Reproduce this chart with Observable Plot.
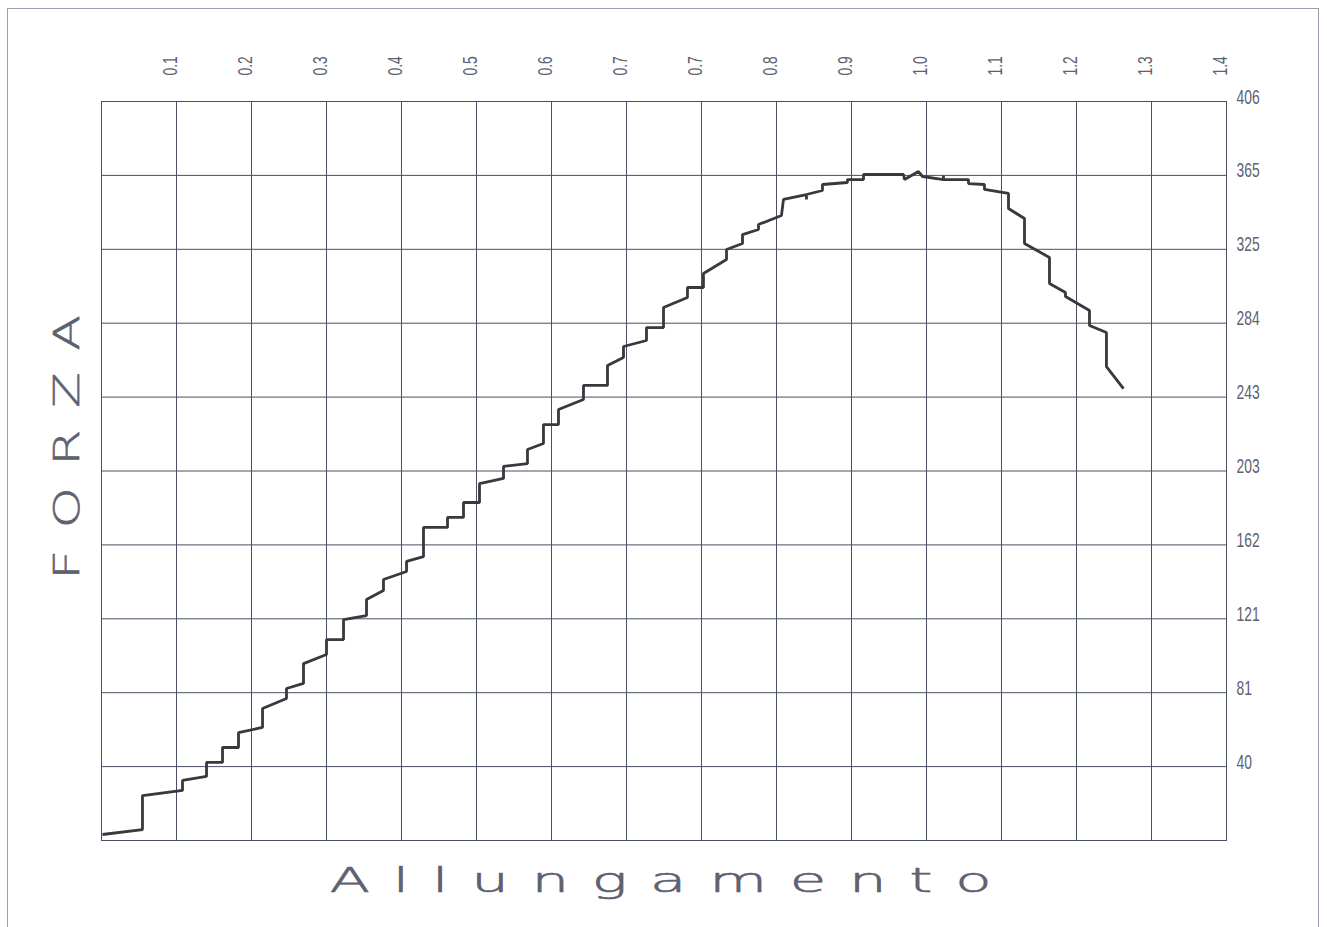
<!DOCTYPE html>
<html>
<head>
<meta charset="utf-8">
<script src="https://cdn.jsdelivr.net/npm/d3@7"></script>
<script src="https://cdn.jsdelivr.net/npm/@observablehq/plot@0.6"></script>
<style>
  html, body { margin: 0; padding: 0; background: #fff; overflow: hidden; }
  #wrap { position: relative; width: 1327px; height: 927px; }
  #sheet { position: absolute; left: 7px; top: 8px; width: 1310px; height: 960px;
           border: 1.5px solid #9a9fae; border-bottom: none; pointer-events: none; }
</style>
</head>
<body>
<div id="wrap"><div id="chart"></div><div id="sheet"></div></div>
<script>
// ---- data ----
const xMax = 1.4;
const yMax = 406;
const xTickLabels = ["0.1","0.2","0.3","0.4","0.5","0.6","0.7","0.7","0.8","0.9","1.0","1.1","1.2","1.3","1.4"];
const yTickLabels = ["40","81","121","162","203","243","284","325","365","406"];
const xTitle = "Allungamento";
const yTitle = "FORZA";

const allungamento = [
  0.0012, 0.0510, 0.0510, 0.1008, 0.1008, 0.1307, 0.1307, 0.1506, 0.1506, 0.1705,
  0.1705, 0.2004, 0.2004, 0.2302, 0.2302, 0.2514, 0.2514, 0.2800, 0.2800, 0.3012,
  0.3012, 0.3298, 0.3298, 0.3509, 0.3509, 0.3796, 0.3796, 0.4007, 0.4007, 0.4306,
  0.4306, 0.4505, 0.4505, 0.4704, 0.4704, 0.5003, 0.5003, 0.5301, 0.5301, 0.5500,
  0.5500, 0.5687, 0.5687, 0.5998, 0.5998, 0.6297, 0.6297, 0.6496, 0.6496, 0.6782,
  0.6782, 0.6994, 0.6994, 0.7292, 0.7292, 0.7491, 0.7491, 0.7778, 0.7778, 0.7977,
  0.7977, 0.8176, 0.8176, 0.8462, 0.8487, 0.8773, 0.8773, 0.8773, 0.8972, 0.8972,
  0.9283, 0.9283, 0.9483, 0.9483, 0.9980, 0.9993, 1.0167, 1.0217, 1.0478, 1.0478,
  1.0478, 1.0789, 1.0789, 1.0988, 1.0988, 1.1287, 1.1287, 1.1486, 1.1486, 1.1797,
  1.1797, 1.1996, 1.1996, 1.2295, 1.2295, 1.2506, 1.2506, 1.2718
];
const forza = [
  3.3, 6.0, 24.7, 27.5, 33.0, 35.2, 42.9, 42.9, 51.1, 51.1,
  59.3, 62.1, 72.5, 78.0, 83.5, 86.3, 97.2, 102.2, 110.4, 110.4,
  121.4, 123.6, 132.4, 137.3, 143.4, 147.8, 153.3, 156.0, 172.0, 172.0,
  177.5, 177.5, 185.7, 185.7, 196.1, 198.9, 205.5, 207.1, 214.8, 218.1,
  228.5, 228.5, 236.8, 242.3, 250.0, 250.0, 261.0, 265.4, 271.4, 274.7,
  281.8, 281.8, 292.8, 298.3, 303.8, 303.8, 311.5, 319.2, 324.7, 328.0,
  332.9, 335.7, 338.4, 343.4, 352.2, 354.9, 352.2, 354.9, 357.1, 360.4,
  361.5, 363.1, 363.1, 365.9, 365.9, 363.1, 367.5, 364.8, 363.1, 365.3,
  363.1, 363.1, 360.9, 360.4, 357.7, 355.5, 347.2, 341.7, 328.0, 320.3,
  306.0, 301.1, 298.9, 291.2, 282.9, 279.1, 260.4, 248.3
];

// ---- derived ----
const points = allungamento.map((x, i) => ({x, y: forza[i]}));
const xTicks = xTickLabels.map((_, i) => (i + 1) * xMax / xTickLabels.length);
const yTicks = yTickLabels.map((_, i) => (i + 1) * yMax / yTickLabels.length);

const gridColor = "#4a5064";
const curveColor = "#38383d";
const labelColor = "#5d6170";
const tickFont = '"Liberation Sans", Arial, sans-serif';
const light = '"DejaVu Sans ExtraLight", "DejaVu Sans", sans-serif';

const tickScale = 0.66;
const yTitleSpacing = 14.8, yTitleScale = 1.45;
const xTitleSpacing = 12.6, xTitleScale = 1.8;

const chart = Plot.plot({
  width: 1327,
  height: 927,
  marginLeft: 101,
  marginRight: 101,
  marginTop: 101,
  marginBottom: 87,
  x: {domain: [0, xMax], axis: null},
  y: {domain: [0, yMax], axis: null},
  style: {background: "white", overflow: "visible"},
  marks: [
    Plot.gridX(xTicks.slice(0, -1), {stroke: gridColor, strokeOpacity: 1, strokeWidth: 1}),
    Plot.gridY(yTicks.slice(0, -1), {stroke: gridColor, strokeOpacity: 1, strokeWidth: 1}),
    Plot.frame({stroke: gridColor, strokeWidth: 1}),
    Plot.line(points, {x: "x", y: "y", stroke: curveColor, strokeWidth: 2.8, strokeLinejoin: "miter", strokeLinecap: "butt"}),
    Plot.text(xTicks, {x: d => d, text: (d, i) => xTickLabels[i], frameAnchor: "top", rotate: -90,
      textAnchor: "start", lineAnchor: "bottom", dy: -26, fontSize: 21, fontFamily: tickFont, fill: labelColor}),
    Plot.text(yTicks, {y: d => d, text: (d, i) => yTickLabels[i], frameAnchor: "right",
      textAnchor: "start", lineAnchor: "bottom", dx: 10, dy: 2, fontSize: 21, fontFamily: tickFont, fill: labelColor}),
    Plot.text([yTitle], {text: d => d, frameAnchor: "left", rotate: -90, textAnchor: "middle", lineAnchor: "middle",
      dx: -34, dy: -23.5 - yTitleSpacing * yTitleScale / 2, fontSize: 36, fontWeight: 200, fontFamily: light,
      fill: labelColor, stroke: labelColor, strokeWidth: 0.6}),
    Plot.text([xTitle], {text: d => d, frameAnchor: "bottom", textAnchor: "middle", lineAnchor: "bottom",
      dx: -3.5 + xTitleSpacing * xTitleScale / 2, dy: 51,
      fontSize: 33, fontWeight: 200, fontFamily: light, fill: labelColor, stroke: labelColor, strokeWidth: 0.6})
  ]
});

document.getElementById("chart").appendChild(chart);

function stretchText(node, sx, ls) {
  const tr = node.getAttribute("transform");
  if (tr) {
    node.setAttribute("transform", tr + ` scale(${sx},1)`);
  } else {
    const x = +(node.getAttribute("x") || 0);
    node.removeAttribute("x");
    const yAttr = node.getAttribute("y");
    if (yAttr != null && !isNaN(+yAttr)) {
      node.removeAttribute("y");
      node.setAttribute("transform", `translate(${x},${+yAttr}) scale(${sx},1)`);
    } else {
      node.setAttribute("transform", `translate(${x},0) scale(${sx},1)`);
    }
  }
  if (ls) node.style.letterSpacing = ls + "px";
}

const tickSet = new Set([...xTickLabels, ...yTickLabels]);
d3.select(chart).selectAll("text").each(function () {
  const s = this.textContent;
  if (s === yTitle) stretchText(this, yTitleScale, yTitleSpacing);
  else if (s === xTitle) stretchText(this, xTitleScale, xTitleSpacing);
  else if (tickSet.has(s)) stretchText(this, tickScale, 0);
});
</script>
</body>
</html>
